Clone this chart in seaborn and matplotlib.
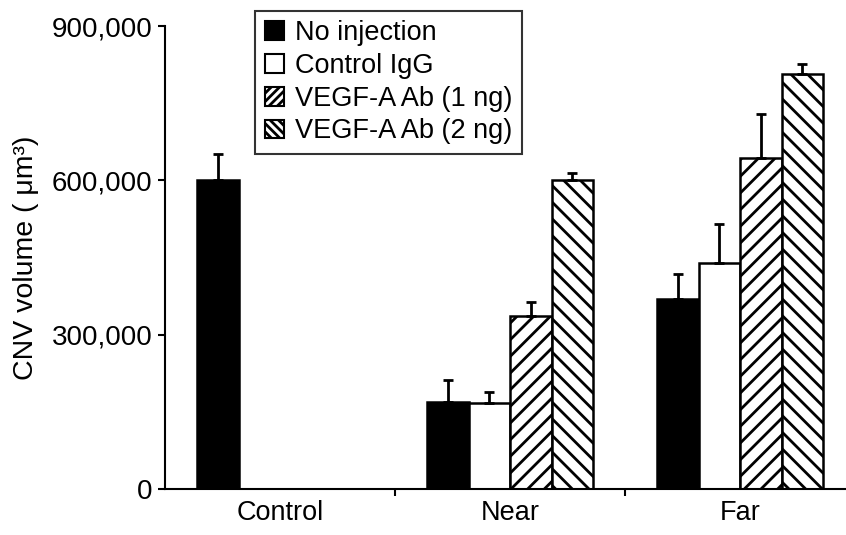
import numpy as np
import pandas as pd
import matplotlib
matplotlib.use("Agg")
import matplotlib.pyplot as plt
import seaborn as sns

# values
groups = ["Control", "Near", "Far"]
treatments = ["No injection", "Control IgG", "VEGF-A Ab (1 ng)", "VEGF-A Ab (2 ng)"]
no_injection = [600000, 170000, 369000]
control_igg = [np.nan, 168000, 439000]
vegf_1ng = [np.nan, 336000, 643000]
vegf_2ng = [np.nan, 600000, 808000]
err_no_injection = [52000, 42000, 50000]
err_control_igg = [np.nan, 20000, 76000]
err_vegf_1ng = [np.nan, 27000, 87000]
err_vegf_2ng = [np.nan, 14000, 19000]

means = [no_injection, control_igg, vegf_1ng, vegf_2ng]
errs = [err_no_injection, err_control_igg, err_vegf_1ng, err_vegf_2ng]

rows = []
for t, vals in zip(treatments, means):
    for g, v in zip(groups, vals):
        rows.append({"group": g, "treatment": t, "volume": v})
df = pd.DataFrame(rows)

sns.set_style("ticks")
plt.rcParams["font.family"] = ["Liberation Sans", "DejaVu Sans"]
plt.rcParams["hatch.linewidth"] = 2.0
for k in ["text.color", "axes.labelcolor", "xtick.color", "ytick.color", "axes.edgecolor"]:
    plt.rcParams[k] = "black"

fig = plt.figure(figsize=(8.46, 5.35), dpi=100)
ax = fig.add_axes([0.195, 0.086, 0.805, 0.865])

palette = ["black", "white", "white", "white"]
sns.barplot(data=df, x="group", y="volume", hue="treatment", order=groups,
            hue_order=treatments, palette=palette, width=0.72, errorbar=None,
            edgecolor="black", linewidth=1.8, saturation=1, ax=ax)

hatches = [None, None, "//", "\\\\"]
for cont, h, e in zip(ax.containers, hatches, errs):
    xs, ys, es = [], [], []
    for p in cont.patches:
        if h:
            p.set_hatch(h)
        xc = p.get_x() + p.get_width() / 2
        gi = int(round(xc))
        err = e[gi]
        if np.isnan(err) or np.isnan(p.get_height()) or p.get_height() == 0:
            continue
        xs.append(xc)
        ys.append(p.get_height())
        es.append(err)
    ax.errorbar(xs, ys, yerr=[np.zeros(len(es)), es], fmt="none", ecolor="black",
                elinewidth=2, capsize=3.5, capthick=2, zorder=1)

ax.set_ylim(0, 900000)
ax.set_xlim(-0.5, 2.46)
ax.set_yticks([0, 300000, 600000, 900000])
ax.set_yticklabels(["0", "300,000", "600,000", "900,000"])
ax.set_xticks([0, 1, 2])
ax.set_xticks([0.5, 1.5], minor=True)
ax.tick_params(axis="x", which="major", length=0, pad=8, labelsize=19.5)
ax.tick_params(axis="x", which="minor", length=5, width=1.5, direction="out")
ax.tick_params(axis="y", length=5, width=1.5, labelsize=20, pad=4)
ax.set_xlabel("")
ax.set_ylabel("CNV volume ( μm³)", fontsize=20.5, labelpad=9)
sns.despine(ax=ax)
for s in ["left", "bottom"]:
    ax.spines[s].set_linewidth(1.5)
    ax.spines[s].set_color("black")

leg = ax.legend(loc="upper left", bbox_to_anchor=(0.302, 0.98),
                bbox_transform=fig.transFigure, fontsize=19.5, frameon=True,
                fancybox=False, edgecolor="black", handlelength=0.7,
                handleheight=0.7, handletextpad=0.4, labelspacing=0.25,
                borderpad=0.35, borderaxespad=0)
leg.get_frame().set_linewidth(1.5)
for hnd, h in zip(leg.legend_handles, hatches):
    hnd.set_linewidth(1.5)
    if h:
        hnd.set_hatch(h * 2)

fig.savefig("out.png", dpi=100)
